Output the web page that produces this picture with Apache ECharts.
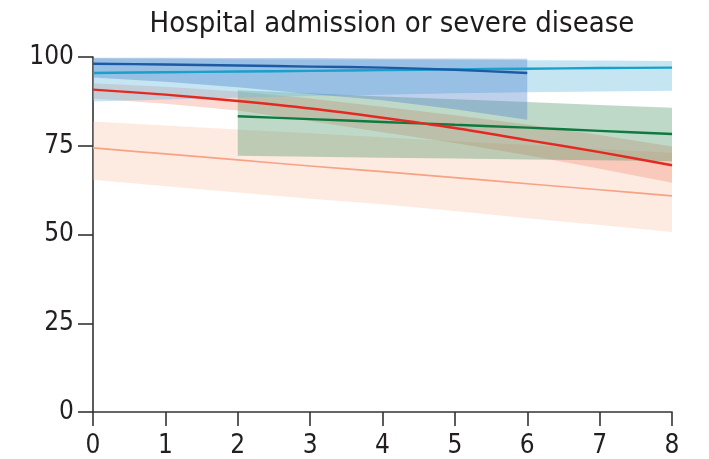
<!DOCTYPE html>
<html>
<head>
<meta charset="utf-8">
<script src="https://cdn.jsdelivr.net/npm/echarts@6/dist/echarts.min.js"></script>
<style>
html,body{margin:0;padding:0;background:#fff;}
#chart{width:709px;height:459px;}
</style>
</head>
<body>
<div id="chart"></div>
<script>
// ---- data ----
var titleText = 'Hospital admission or severe disease';
var xs = [0, 1, 2, 3, 4, 5, 6, 7, 8];
var xTicks = [0, 1, 2, 3, 4, 5, 6, 7, 8];
var yTicks = [0, 25, 50, 75, 100];

// dark blue series (0-6)
var darkBlue    = [98.1, 97.9, 97.6, 97.3, 97.0, 96.4, 95.5, null, null];
var darkBlueLow = [94.2, 93.0, 91.5, 89.6, 87.8, 85.3, 82.3, null, null];
var darkBlueUp  = [99.8, 99.8, 99.7, 99.7, 99.6, 99.6, 99.5, null, null];

// cyan series (0-8)
var cyan    = [95.5, 95.7, 95.9, 96.1, 96.3, 96.5, 96.7, 96.9, 97.0];
var cyanLow = [87.5, 88.0, 88.5, 89.0, 89.4, 89.8, 90.1, 90.3, 90.5];
var cyanUp  = [99.6, 99.5, 99.4, 99.3, 99.3, 99.2, 99.1, 99.0, 98.9];

// red series (0-8)
var red    = [90.8, 89.4, 87.6, 85.5, 82.9, 80.0, 76.6, 73.2, 69.5];
var redLow = [88.3, 86.8, 84.9, 82.0, 78.8, 75.8, 72.3, 68.5, 64.6];
var redUp  = [92.6, 91.6, 90.3, 88.3, 86.0, 83.6, 81.0, 78.0, 74.8];

// green series (2-8)
var green    = [null, null, 83.3, 82.5, 81.7, 80.9, 80.1, 79.2, 78.3];
var greenLow = [null, null, 72.2, 71.9, 71.6, 71.4, 71.1, 70.9, 70.6];
var greenUp  = [null, null, 90.6, 89.8, 88.9, 88.1, 87.3, 86.5, 85.7];

// light salmon series (0-8)
var salmon    = [74.4, 72.7, 71.0, 69.3, 67.7, 66.0, 64.3, 62.6, 60.9];
var salmonLow = [65.4, 63.6, 61.8, 60.1, 58.5, 56.6, 54.6, 52.7, 50.7];
var salmonUp  = [81.8, 80.7, 79.6, 78.5, 77.4, 76.3, 75.2, 74.1, 73.0];

// ---- helpers ----
function pairs(ys) {
  var out = [];
  for (var i = 0; i < xs.length; i++) {
    if (ys[i] !== null) out.push([xs[i], ys[i]]);
  }
  return out;
}
function bandSeries(low, up, color, z) {
  return {
    type: 'custom',
    z: z,
    silent: true,
    data: [[0, 0]],
    renderItem: function (params, api) {
      var pts = [];
      var i;
      for (i = 0; i < xs.length; i++) {
        if (up[i] !== null) pts.push(api.coord([xs[i], up[i]]));
      }
      for (i = xs.length - 1; i >= 0; i--) {
        if (low[i] !== null) pts.push(api.coord([xs[i], low[i]]));
      }
      return {
        type: 'polygon',
        shape: { points: pts },
        style: { fill: color, stroke: null }
      };
    }
  };
}
function lineSeries(ys, color, z, w) {
  return {
    type: 'line',
    z: z,
    data: pairs(ys),
    showSymbol: false,
    symbol: 'none',
    smooth: 0.3,
    silent: true,
    lineStyle: { color: color, width: w }
  };
}

var labelFont = "'DejaVu Sans Condensed', 'Liberation Sans Narrow', sans-serif";

var chart = echarts.init(document.getElementById('chart'), null, { renderer: 'canvas' });
chart.setOption({
  animation: false,
  backgroundColor: '#ffffff',
  title: {
    text: titleText,
    left: 387,
    textAlign: 'center',
    top: 5,
    textStyle: { fontFamily: labelFont, fontSize: 29, fontWeight: 'normal', color: '#1e1b1c' }
  },
  grid: { left: 93, right: 37, top: 57, bottom: 43, containLabel: false },
  xAxis: {
    type: 'value', min: 0, max: 8, interval: 1,
    axisLine: { show: true, onZero: false, lineStyle: { color: '#333333', width: 1.6 } },
    axisTick: { show: true, length: 14, lineStyle: { color: '#333333', width: 1.6 } },
    axisLabel: {
      margin: 21, fontFamily: labelFont, fontSize: 26, color: '#231f20',
      formatter: function (v) { return xTicks.indexOf(v) >= 0 ? String(v) : ''; }
    },
    splitLine: { show: false }
  },
  yAxis: {
    type: 'value', min: 0, max: 100, interval: 25,
    axisLine: { show: true, onZero: false, lineStyle: { color: '#333333', width: 1.6 } },
    axisTick: { show: true, length: 15, lineStyle: { color: '#333333', width: 1.6 } },
    axisLabel: {
      margin: 19, fontFamily: labelFont, fontSize: 26, color: '#231f20',
      formatter: function (v) { return yTicks.indexOf(v) >= 0 ? String(v) : ''; }
    },
    splitLine: { show: false }
  },
  series: [
    bandSeries(salmonLow, salmonUp, 'rgba(250,190,160,0.30)', 1),
    bandSeries(redLow, redUp, 'rgba(240,120,90,0.28)', 2),
    bandSeries(greenLow, greenUp, 'rgba(60,140,90,0.33)', 3),
    bandSeries(cyanLow, cyanUp, 'rgba(110,190,225,0.40)', 4),
    bandSeries(darkBlueLow, darkBlueUp, 'rgba(70,120,200,0.35)', 5),
    lineSeries(salmon, '#f7a285', 10, 1.7),
    lineSeries(green, '#0f7a3f', 11, 2.4),
    lineSeries(red, '#e32a22', 12, 2.4),
    lineSeries(cyan, '#19a0cb', 13, 2.4),
    lineSeries(darkBlue, '#1d5aa5', 14, 2.4)
  ]
});
</script>
</body>
</html>
